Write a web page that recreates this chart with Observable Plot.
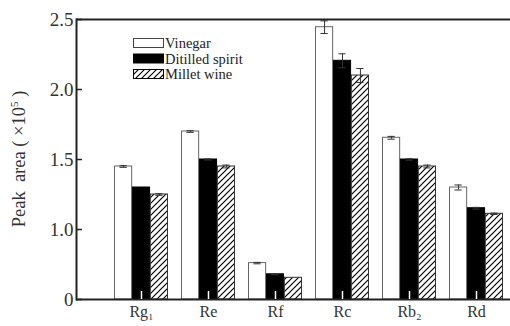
<!DOCTYPE html>
<html>
<head>
<meta charset="utf-8">
<script src="https://cdn.jsdelivr.net/npm/d3@7"></script>
<script src="https://cdn.jsdelivr.net/npm/@observablehq/plot@0.6"></script>
<style>
  body { margin: 0; background: #fff; }
  #wrap { position: relative; width: 510px; height: 326px; font-family: "Liberation Serif", "DejaVu Serif", serif; }
  #ylabel { position: absolute; left: 19px; top: 159px; transform: translate(-50%, -50%) rotate(-90deg); white-space: pre; font-size: 18.5px; color: #333; }
  #ylabel sup { font-size: 11px; }
</style>
</head>
<body>
<div id="wrap">
  <div id="chart"></div>
  <div id="ylabel">Peak  area ( ×10<sup>5</sup> )</div>
</div>
<script>
const categories = ["Rg1", "Re", "Rf", "Rc", "Rb2", "Rd"];
const categoryLabels = ["Rg₁", "Re", "Rf", "Rc", "Rb₂", "Rd"];
const seriesNames = ["Vinegar", "Ditilled spirit", "Millet wine"];
const vinegar = [1.45, 1.70, 0.76, 2.445, 1.655, 1.30];
const spirit  = [1.30, 1.50, 0.68, 2.205, 1.50, 1.152];
const millet  = [1.25, 1.45, 0.655, 2.10, 1.45, 1.112];
const vinegarErr = [0.006, 0.006, 0.005, 0.045, 0.01, 0.018];
const spiritErr  = [0.0, 0.004, 0.003, 0.05, 0.005, 0.006];
const milletErr  = [0.006, 0.01, 0.0, 0.05, 0.01, 0.005];
const yTicks = [0.5, 1.0, 1.5, 2.0, 2.5];
const yTickLabels = ["0", "1.0", "1.5", "2.0", "2.5"];
const axisFloor = 0.5; // broken axis: bottom labelled "0"

const seriesValues = [vinegar, spirit, millet];
const seriesErrs = [vinegarErr, spiritErr, milletErr];
const rows = seriesNames.map((s, si) => categories.map((c, i) => ({cat: c, series: s, si, v: seriesValues[si][i], e: seriesErrs[si][i]})));

const step = 434 / (6 - 0.2 + 2 * 0.329);
const bw = step * 0.8;
const third = bw / 3;
const fills = ["white", "black", "url(#hatch)"];
const strokes = ["#666", "black", "#333"];
const labelMap = new Map(categories.map((c, i) => [c, categoryLabels[i]]));
const yLabelMap = new Map(yTicks.map((t, i) => [t, yTickLabels[i]]));
const serif = '"Liberation Serif", "DejaVu Serif", serif';

const marks = [];
rows.forEach((data, si) => {
  marks.push(Plot.barY(data, {
    x: "cat", y1: axisFloor, y2: "v",
    fill: fills[si], stroke: strokes[si], strokeWidth: 1,
    insetLeft: si * third + 0.5, insetRight: (2 - si) * third + 0.5
  }));
});
rows.forEach((data, si) => {
  const dx = (si - 1) * third;
  const ed = data.filter(d => d.e > 0);
  marks.push(Plot.ruleX(ed, {x: "cat", y1: d => d.v - d.e, y2: d => d.v + d.e, dx, stroke: "#333", strokeWidth: 1}));
  marks.push(Plot.tickY(ed, {x: "cat", y: d => d.v + d.e, dx, stroke: "#333", strokeWidth: 1, insetLeft: bw / 2 - 3.5, insetRight: bw / 2 - 3.5}));
  marks.push(Plot.tickY(ed, {x: "cat", y: d => d.v - d.e, dx, stroke: "#333", strokeWidth: 1, insetLeft: bw / 2 - 3.5, insetRight: bw / 2 - 3.5}));
});
marks.push(Plot.ruleY([2.5], {stroke: "#222", strokeWidth: 2}));
marks.push(Plot.ruleY([axisFloor], {stroke: "#222", strokeWidth: 2}));
marks.push(Plot.axisX({tickSize: 8, text: null, dy: -8, stroke: "white", strokeWidth: 1.5}));
marks.push(Plot.axisX({tickSize: 0, tickPadding: 6, tickFormat: d => labelMap.get(d), fontSize: 16, fill: "#333", label: null}));
marks.push(Plot.axisY(yTicks, {tickSize: 6, text: null, dx: 6, stroke: "#222", strokeWidth: 1.5}));
marks.push(Plot.axisY(yTicks, {tickSize: 0, tickPadding: 3, tickFormat: d => yLabelMap.get(d), fontSize: 19, fill: "#333", label: null}));
marks.push(Plot.frame({anchor: "left", stroke: "#222", strokeWidth: 2}));

const chart = Plot.plot({
  width: 510, height: 326,
  marginTop: 19, marginBottom: 27, marginLeft: 76, marginRight: 0,
  style: {fontFamily: serif, background: "white", overflow: "visible"},
  x: {domain: categories, paddingInner: 0.2, paddingOuter: 0.329, align: 0.844, label: null, axis: null},
  y: {domain: [axisFloor, 2.5], label: null, axis: null},
  marks
});
chart.insertAdjacentHTML("afterbegin", `<defs><pattern id="hatch" patternUnits="userSpaceOnUse" width="6" height="6"><rect width="6" height="6" fill="white"/><path d="M0,6 L6,0 M-1.5,1.5 L1.5,-1.5 M4.5,7.5 L7.5,4.5" stroke="black" stroke-width="1.2"/></pattern></defs>`);

// legend inside the SVG
const lg = d3.select(chart).append("g").attr("transform", "translate(133,38)");
seriesNames.forEach((name, si) => {
  const g = lg.append("g").attr("transform", `translate(0,${si * 15.5})`);
  g.append("rect").attr("x", 0.5).attr("y", 0.5).attr("width", 30).attr("height", 9)
    .attr("fill", fills[si]).attr("stroke", si === 0 ? "#444" : "black").attr("stroke-width", 1);
  g.append("text").attr("x", 32).attr("y", 10)
    .style("font-family", serif).style("font-size", "14.5px").style("text-anchor", "start").style("fill", "#222")
    .text(name);
});
document.getElementById("chart").appendChild(chart);
</script>
</body>
</html>
